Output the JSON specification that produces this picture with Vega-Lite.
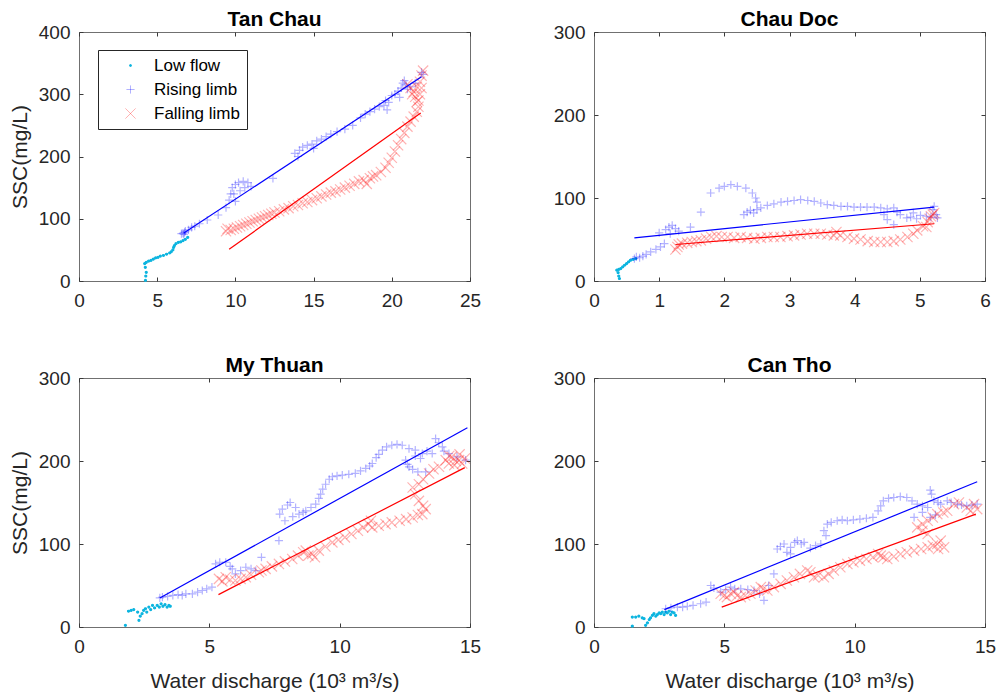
{
  "$schema": "https://vega.github.io/schema/vega-lite/v6.json",
  "background": "#ffffff",
  "padding": {"left": 8, "top": 8, "right": 4, "bottom": 4},
  "columns": 2,
  "spacing": {"row": 97, "column": 124},
  "bounds": "flush",
  "concat": [
    {
      "title": {"text": "Tan Chau"},
      "width": 391,
      "height": 249,
      "layer": [
        {
          "data": {"values": [
            {"limb":"Low flow","Q":4.25,"SSC":1},{"limb":"Low flow","Q":4.27,"SSC":8},{"limb":"Low flow","Q":4.3,"SSC":14},{"limb":"Low flow","Q":4.24,"SSC":22},{"limb":"Low flow","Q":4.2,"SSC":28},{"limb":"Low flow","Q":4.3,"SSC":30},{"limb":"Low flow","Q":4.45,"SSC":32},{"limb":"Low flow","Q":4.6,"SSC":33},{"limb":"Low flow","Q":4.75,"SSC":35},{"limb":"Low flow","Q":4.9,"SSC":37},{"limb":"Low flow","Q":5.05,"SSC":38},{"limb":"Low flow","Q":5.2,"SSC":40},{"limb":"Low flow","Q":5.4,"SSC":41},{"limb":"Low flow","Q":5.6,"SSC":43},{"limb":"Low flow","Q":5.8,"SSC":45},{"limb":"Low flow","Q":5.9,"SSC":47},{"limb":"Low flow","Q":6.0,"SSC":50},{"limb":"Low flow","Q":6.05,"SSC":54},{"limb":"Low flow","Q":6.1,"SSC":57},{"limb":"Low flow","Q":6.2,"SSC":60},{"limb":"Low flow","Q":6.35,"SSC":62},{"limb":"Low flow","Q":6.5,"SSC":63},{"limb":"Low flow","Q":6.65,"SSC":65},{"limb":"Low flow","Q":6.8,"SSC":67},{"limb":"Low flow","Q":6.95,"SSC":70},
            {"limb":"Rising limb","Q":6.55,"SSC":76},{"limb":"Rising limb","Q":6.65,"SSC":77},{"limb":"Rising limb","Q":6.75,"SSC":78},{"limb":"Rising limb","Q":6.7,"SSC":75},{"limb":"Rising limb","Q":6.8,"SSC":80},{"limb":"Rising limb","Q":7.0,"SSC":82},{"limb":"Rising limb","Q":7.2,"SSC":86},{"limb":"Rising limb","Q":7.4,"SSC":88},{"limb":"Rising limb","Q":7.7,"SSC":92},{"limb":"Rising limb","Q":8.2,"SSC":98},{"limb":"Rising limb","Q":8.9,"SSC":106},{"limb":"Rising limb","Q":9.4,"SSC":118},{"limb":"Rising limb","Q":9.6,"SSC":130},{"limb":"Rising limb","Q":9.7,"SSC":140},{"limb":"Rising limb","Q":9.8,"SSC":150},{"limb":"Rising limb","Q":10.0,"SSC":155},{"limb":"Rising limb","Q":10.2,"SSC":158},{"limb":"Rising limb","Q":10.5,"SSC":160},{"limb":"Rising limb","Q":10.8,"SSC":158},{"limb":"Rising limb","Q":10.3,"SSC":145},{"limb":"Rising limb","Q":10.0,"SSC":128},{"limb":"Rising limb","Q":9.9,"SSC":140},{"limb":"Rising limb","Q":10.6,"SSC":150},{"limb":"Rising limb","Q":11.0,"SSC":152},{"limb":"Rising limb","Q":12.4,"SSC":165},{"limb":"Rising limb","Q":13.8,"SSC":205},{"limb":"Rising limb","Q":14.0,"SSC":200},{"limb":"Rising limb","Q":14.1,"SSC":210},{"limb":"Rising limb","Q":14.3,"SSC":215},{"limb":"Rising limb","Q":14.6,"SSC":218},{"limb":"Rising limb","Q":14.9,"SSC":220},{"limb":"Rising limb","Q":15.0,"SSC":213},{"limb":"Rising limb","Q":15.2,"SSC":225},{"limb":"Rising limb","Q":15.5,"SSC":228},{"limb":"Rising limb","Q":15.8,"SSC":232},{"limb":"Rising limb","Q":16.1,"SSC":236},{"limb":"Rising limb","Q":16.5,"SSC":240},{"limb":"Rising limb","Q":17.0,"SSC":244},{"limb":"Rising limb","Q":17.5,"SSC":250},{"limb":"Rising limb","Q":18.0,"SSC":262},{"limb":"Rising limb","Q":18.3,"SSC":268},{"limb":"Rising limb","Q":18.6,"SSC":272},{"limb":"Rising limb","Q":18.9,"SSC":276},{"limb":"Rising limb","Q":19.2,"SSC":280},{"limb":"Rising limb","Q":19.5,"SSC":282},{"limb":"Rising limb","Q":19.6,"SSC":290},{"limb":"Rising limb","Q":19.7,"SSC":275},{"limb":"Rising limb","Q":19.8,"SSC":287},{"limb":"Rising limb","Q":20.0,"SSC":298},{"limb":"Rising limb","Q":20.2,"SSC":300},{"limb":"Rising limb","Q":20.4,"SSC":305},{"limb":"Rising limb","Q":20.5,"SSC":295},{"limb":"Rising limb","Q":20.6,"SSC":310},{"limb":"Rising limb","Q":20.7,"SSC":318},{"limb":"Rising limb","Q":20.8,"SSC":322},{"limb":"Rising limb","Q":20.9,"SSC":315},{"limb":"Rising limb","Q":21.0,"SSC":308},{"limb":"Rising limb","Q":21.2,"SSC":312},{"limb":"Rising limb","Q":21.5,"SSC":318},{"limb":"Rising limb","Q":21.9,"SSC":335},{"limb":"Rising limb","Q":22.0,"SSC":332},
            {"limb":"Falling limb","Q":9.4,"SSC":80},{"limb":"Falling limb","Q":9.5,"SSC":84},{"limb":"Falling limb","Q":9.7,"SSC":82},{"limb":"Falling limb","Q":9.9,"SSC":84},{"limb":"Falling limb","Q":10.1,"SSC":86},{"limb":"Falling limb","Q":10.3,"SSC":88},{"limb":"Falling limb","Q":10.5,"SSC":90},{"limb":"Falling limb","Q":10.7,"SSC":92},{"limb":"Falling limb","Q":10.9,"SSC":94},{"limb":"Falling limb","Q":11.1,"SSC":96},{"limb":"Falling limb","Q":11.3,"SSC":98},{"limb":"Falling limb","Q":11.5,"SSC":100},{"limb":"Falling limb","Q":11.7,"SSC":102},{"limb":"Falling limb","Q":11.9,"SSC":104},{"limb":"Falling limb","Q":12.1,"SSC":106},{"limb":"Falling limb","Q":12.3,"SSC":108},{"limb":"Falling limb","Q":12.5,"SSC":110},{"limb":"Falling limb","Q":12.8,"SSC":112},{"limb":"Falling limb","Q":13.1,"SSC":115},{"limb":"Falling limb","Q":13.4,"SSC":117},{"limb":"Falling limb","Q":13.7,"SSC":120},{"limb":"Falling limb","Q":14.0,"SSC":122},{"limb":"Falling limb","Q":14.3,"SSC":125},{"limb":"Falling limb","Q":14.6,"SSC":127},{"limb":"Falling limb","Q":14.9,"SSC":130},{"limb":"Falling limb","Q":15.2,"SSC":133},{"limb":"Falling limb","Q":15.5,"SSC":136},{"limb":"Falling limb","Q":15.8,"SSC":139},{"limb":"Falling limb","Q":16.1,"SSC":142},{"limb":"Falling limb","Q":16.4,"SSC":144},{"limb":"Falling limb","Q":16.7,"SSC":147},{"limb":"Falling limb","Q":17.0,"SSC":150},{"limb":"Falling limb","Q":17.3,"SSC":153},{"limb":"Falling limb","Q":17.6,"SSC":156},{"limb":"Falling limb","Q":17.9,"SSC":160},{"limb":"Falling limb","Q":18.2,"SSC":162},{"limb":"Falling limb","Q":18.4,"SSC":156},{"limb":"Falling limb","Q":18.6,"SSC":165},{"limb":"Falling limb","Q":18.8,"SSC":168},{"limb":"Falling limb","Q":19.0,"SSC":170},{"limb":"Falling limb","Q":19.3,"SSC":175},{"limb":"Falling limb","Q":19.6,"SSC":182},{"limb":"Falling limb","Q":19.8,"SSC":190},{"limb":"Falling limb","Q":20.0,"SSC":198},{"limb":"Falling limb","Q":20.2,"SSC":208},{"limb":"Falling limb","Q":20.4,"SSC":218},{"limb":"Falling limb","Q":20.6,"SSC":228},{"limb":"Falling limb","Q":20.8,"SSC":238},{"limb":"Falling limb","Q":21.0,"SSC":248},{"limb":"Falling limb","Q":21.2,"SSC":256},{"limb":"Falling limb","Q":21.4,"SSC":264},{"limb":"Falling limb","Q":21.6,"SSC":272},{"limb":"Falling limb","Q":21.7,"SSC":280},{"limb":"Falling limb","Q":21.6,"SSC":288},{"limb":"Falling limb","Q":21.5,"SSC":296},{"limb":"Falling limb","Q":21.4,"SSC":304},{"limb":"Falling limb","Q":21.2,"SSC":310},{"limb":"Falling limb","Q":21.0,"SSC":316},{"limb":"Falling limb","Q":21.3,"SSC":300},{"limb":"Falling limb","Q":21.7,"SSC":290},{"limb":"Falling limb","Q":21.8,"SSC":300},{"limb":"Falling limb","Q":21.9,"SSC":310},{"limb":"Falling limb","Q":21.8,"SSC":320},{"limb":"Falling limb","Q":21.9,"SSC":330},{"limb":"Falling limb","Q":22.0,"SSC":338},{"limb":"Falling limb","Q":21.6,"SSC":312}
          ]},
          "mark": {"type": "point", "filled": false, "opacity": 1, "strokeWidth": 1.2},
          "encoding": {
            "x": {"field": "Q", "type": "quantitative", "scale": {"domain": [0, 25], "nice": false, "zero": false}, "axis": {"values": [0, 5, 10, 15, 20, 25], "title": null}},
            "y": {"field": "SSC", "type": "quantitative", "scale": {"domain": [0, 400], "nice": false}, "axis": {"values": [0, 100, 200, 300, 400], "title": "SSC(mg/L)"}},
            "shape": {"field": "limb", "type": "nominal", "title": null, "scale": {"domain": ["Low flow", "Rising limb", "Falling limb"], "range": ["circle", "M-1,0L1,0M0,-1L0,1", "M-0.9,-0.9L0.9,0.9M-0.9,0.9L0.9,-0.9"]}},
            "stroke": {"field": "limb", "type": "nominal", "title": null, "scale": {"domain": ["Low flow", "Rising limb", "Falling limb"], "range": ["#0BB4DF", "rgba(0,0,255,0.3)", "rgba(255,0,0,0.3)"]}},
            "fill": {"field": "limb", "type": "nominal", "title": null, "scale": {"domain": ["Low flow", "Rising limb", "Falling limb"], "range": ["#0BB4DF", "transparent", "transparent"]}},
            "size": {"field": "limb", "type": "nominal", "title": null, "scale": {"domain": ["Low flow", "Rising limb", "Falling limb"], "range": [4, 130, 130]}}
          }
        },
        {
          "data": {"values": [{"Q": 6.7, "SSC": 77}, {"Q": 21.9, "SSC": 328}]},
          "mark": {"type": "line", "color": "#0000FF", "strokeWidth": 1.2},
          "encoding": {
            "x": {"field": "Q", "type": "quantitative", "axis": {"orient": "top", "labels": false, "title": null, "values": [0, 5, 10, 15, 20, 25]}},
            "y": {"field": "SSC", "type": "quantitative", "axis": {"orient": "right", "labels": false, "title": null, "values": [0, 100, 200, 300, 400]}}
          }
        },
        {
          "data": {"values": [{"Q": 9.6, "SSC": 51}, {"Q": 21.85, "SSC": 270}]},
          "mark": {"type": "line", "color": "#FF0000", "strokeWidth": 1.2},
          "encoding": {
            "x": {"field": "Q", "type": "quantitative", "axis": null},
            "y": {"field": "SSC", "type": "quantitative", "axis": null}
          }
        }
      ],
      "resolve": {"axis": {"x": "independent", "y": "independent"}}
    },
    {
      "title": {"text": "Chau Doc"},
      "width": 391,
      "height": 249,
      "layer": [
        {
          "data": {"values": [
            {"limb":"Low flow","Q":0.39,"SSC":3},{"limb":"Low flow","Q":0.38,"SSC":6},{"limb":"Low flow","Q":0.37,"SSC":10},{"limb":"Low flow","Q":0.35,"SSC":13},{"limb":"Low flow","Q":0.38,"SSC":14},{"limb":"Low flow","Q":0.41,"SSC":15},{"limb":"Low flow","Q":0.44,"SSC":17},{"limb":"Low flow","Q":0.47,"SSC":19},{"limb":"Low flow","Q":0.5,"SSC":21},{"limb":"Low flow","Q":0.53,"SSC":23},{"limb":"Low flow","Q":0.56,"SSC":25},{"limb":"Low flow","Q":0.6,"SSC":26},{"limb":"Low flow","Q":0.64,"SSC":27},
            {"limb":"Rising limb","Q":0.62,"SSC":27},{"limb":"Rising limb","Q":0.65,"SSC":29},{"limb":"Rising limb","Q":0.7,"SSC":28},{"limb":"Rising limb","Q":0.75,"SSC":30},{"limb":"Rising limb","Q":0.8,"SSC":32},{"limb":"Rising limb","Q":0.87,"SSC":35},{"limb":"Rising limb","Q":0.95,"SSC":38},{"limb":"Rising limb","Q":1.02,"SSC":41},{"limb":"Rising limb","Q":1.08,"SSC":45},{"limb":"Rising limb","Q":1.0,"SSC":58},{"limb":"Rising limb","Q":1.1,"SSC":62},{"limb":"Rising limb","Q":1.15,"SSC":65},{"limb":"Rising limb","Q":1.2,"SSC":67},{"limb":"Rising limb","Q":1.17,"SSC":57},{"limb":"Rising limb","Q":1.25,"SSC":63},{"limb":"Rising limb","Q":1.3,"SSC":60},{"limb":"Rising limb","Q":1.48,"SSC":65},{"limb":"Rising limb","Q":1.64,"SSC":83},{"limb":"Rising limb","Q":1.79,"SSC":106},{"limb":"Rising limb","Q":1.92,"SSC":112},{"limb":"Rising limb","Q":2.0,"SSC":114},{"limb":"Rising limb","Q":2.1,"SSC":116},{"limb":"Rising limb","Q":2.2,"SSC":114},{"limb":"Rising limb","Q":2.33,"SSC":112},{"limb":"Rising limb","Q":2.43,"SSC":106},{"limb":"Rising limb","Q":2.48,"SSC":100},{"limb":"Rising limb","Q":2.5,"SSC":95},{"limb":"Rising limb","Q":2.3,"SSC":80},{"limb":"Rising limb","Q":2.35,"SSC":83},{"limb":"Rising limb","Q":2.4,"SSC":85},{"limb":"Rising limb","Q":2.45,"SSC":82},{"limb":"Rising limb","Q":2.5,"SSC":86},{"limb":"Rising limb","Q":2.56,"SSC":88},{"limb":"Rising limb","Q":2.66,"SSC":91},{"limb":"Rising limb","Q":2.76,"SSC":93},{"limb":"Rising limb","Q":2.87,"SSC":95},{"limb":"Rising limb","Q":2.97,"SSC":96},{"limb":"Rising limb","Q":3.07,"SSC":97},{"limb":"Rising limb","Q":3.17,"SSC":98},{"limb":"Rising limb","Q":3.28,"SSC":97},{"limb":"Rising limb","Q":3.38,"SSC":96},{"limb":"Rising limb","Q":3.48,"SSC":94},{"limb":"Rising limb","Q":3.58,"SSC":92},{"limb":"Rising limb","Q":3.68,"SSC":91},{"limb":"Rising limb","Q":3.79,"SSC":90},{"limb":"Rising limb","Q":3.89,"SSC":90},{"limb":"Rising limb","Q":3.99,"SSC":89},{"limb":"Rising limb","Q":4.09,"SSC":89},{"limb":"Rising limb","Q":4.19,"SSC":89},{"limb":"Rising limb","Q":4.3,"SSC":89},{"limb":"Rising limb","Q":4.4,"SSC":88},{"limb":"Rising limb","Q":4.5,"SSC":87},{"limb":"Rising limb","Q":4.6,"SSC":88},{"limb":"Rising limb","Q":4.45,"SSC":80},{"limb":"Rising limb","Q":4.5,"SSC":74},{"limb":"Rising limb","Q":4.6,"SSC":68},{"limb":"Rising limb","Q":4.7,"SSC":80},{"limb":"Rising limb","Q":4.8,"SSC":76},{"limb":"Rising limb","Q":4.86,"SSC":77},{"limb":"Rising limb","Q":4.95,"SSC":75},{"limb":"Rising limb","Q":5.01,"SSC":79},{"limb":"Rising limb","Q":5.1,"SSC":78},{"limb":"Rising limb","Q":5.17,"SSC":77},{"limb":"Rising limb","Q":5.2,"SSC":86},{"limb":"Rising limb","Q":5.22,"SSC":90},{"limb":"Rising limb","Q":5.25,"SSC":80},{"limb":"Rising limb","Q":5.27,"SSC":76},{"limb":"Rising limb","Q":4.65,"SSC":83},{"limb":"Rising limb","Q":4.9,"SSC":82},
            {"limb":"Falling limb","Q":1.25,"SSC":38},{"limb":"Falling limb","Q":1.28,"SSC":41},{"limb":"Falling limb","Q":1.3,"SSC":44},{"limb":"Falling limb","Q":1.35,"SSC":45},{"limb":"Falling limb","Q":1.43,"SSC":46},{"limb":"Falling limb","Q":1.5,"SSC":47},{"limb":"Falling limb","Q":1.57,"SSC":48},{"limb":"Falling limb","Q":1.64,"SSC":49},{"limb":"Falling limb","Q":1.72,"SSC":51},{"limb":"Falling limb","Q":1.8,"SSC":53},{"limb":"Falling limb","Q":1.88,"SSC":54},{"limb":"Falling limb","Q":1.96,"SSC":53},{"limb":"Falling limb","Q":2.05,"SSC":53},{"limb":"Falling limb","Q":2.15,"SSC":52},{"limb":"Falling limb","Q":2.25,"SSC":53},{"limb":"Falling limb","Q":2.35,"SSC":52},{"limb":"Falling limb","Q":2.46,"SSC":51},{"limb":"Falling limb","Q":2.56,"SSC":52},{"limb":"Falling limb","Q":2.66,"SSC":53},{"limb":"Falling limb","Q":2.76,"SSC":53},{"limb":"Falling limb","Q":2.86,"SSC":53},{"limb":"Falling limb","Q":2.97,"SSC":54},{"limb":"Falling limb","Q":3.07,"SSC":55},{"limb":"Falling limb","Q":3.17,"SSC":56},{"limb":"Falling limb","Q":3.27,"SSC":57},{"limb":"Falling limb","Q":3.38,"SSC":57},{"limb":"Falling limb","Q":3.48,"SSC":57},{"limb":"Falling limb","Q":3.58,"SSC":56},{"limb":"Falling limb","Q":3.68,"SSC":55},{"limb":"Falling limb","Q":3.72,"SSC":59},{"limb":"Falling limb","Q":3.78,"SSC":55},{"limb":"Falling limb","Q":3.89,"SSC":53},{"limb":"Falling limb","Q":3.99,"SSC":51},{"limb":"Falling limb","Q":4.09,"SSC":50},{"limb":"Falling limb","Q":4.2,"SSC":48},{"limb":"Falling limb","Q":4.3,"SSC":47},{"limb":"Falling limb","Q":4.4,"SSC":47},{"limb":"Falling limb","Q":4.5,"SSC":47},{"limb":"Falling limb","Q":4.6,"SSC":48},{"limb":"Falling limb","Q":4.7,"SSC":50},{"limb":"Falling limb","Q":4.81,"SSC":53},{"limb":"Falling limb","Q":4.9,"SSC":57},{"limb":"Falling limb","Q":4.96,"SSC":61},{"limb":"Falling limb","Q":5.05,"SSC":66},{"limb":"Falling limb","Q":5.12,"SSC":71},{"limb":"Falling limb","Q":5.15,"SSC":75},{"limb":"Falling limb","Q":5.17,"SSC":78},{"limb":"Falling limb","Q":5.2,"SSC":80},{"limb":"Falling limb","Q":5.22,"SSC":82},{"limb":"Falling limb","Q":5.1,"SSC":65}
          ]},
          "mark": {"type": "point", "filled": false, "opacity": 1, "strokeWidth": 1.2},
          "encoding": {
            "x": {"field": "Q", "type": "quantitative", "scale": {"domain": [0, 6], "nice": false, "zero": false}, "axis": {"values": [0, 1, 2, 3, 4, 5, 6], "title": null}},
            "y": {"field": "SSC", "type": "quantitative", "scale": {"domain": [0, 300], "nice": false}, "axis": {"values": [0, 100, 200, 300], "title": null}},
            "shape": {"field": "limb", "type": "nominal", "legend": null, "scale": {"domain": ["Low flow", "Rising limb", "Falling limb"], "range": ["circle", "M-1,0L1,0M0,-1L0,1", "M-0.9,-0.9L0.9,0.9M-0.9,0.9L0.9,-0.9"]}},
            "stroke": {"field": "limb", "type": "nominal", "legend": null, "scale": {"domain": ["Low flow", "Rising limb", "Falling limb"], "range": ["#0BB4DF", "rgba(0,0,255,0.3)", "rgba(255,0,0,0.3)"]}},
            "fill": {"field": "limb", "type": "nominal", "legend": null, "scale": {"domain": ["Low flow", "Rising limb", "Falling limb"], "range": ["#0BB4DF", "transparent", "transparent"]}},
            "size": {"field": "limb", "type": "nominal", "legend": null, "scale": {"domain": ["Low flow", "Rising limb", "Falling limb"], "range": [4, 130, 130]}}
          }
        },
        {
          "data": {"values": [{"Q": 0.62, "SSC": 52}, {"Q": 5.22, "SSC": 89}]},
          "mark": {"type": "line", "color": "#0000FF", "strokeWidth": 1.2},
          "encoding": {
            "x": {"field": "Q", "type": "quantitative", "axis": {"orient": "top", "labels": false, "title": null, "values": [0, 1, 2, 3, 4, 5, 6]}},
            "y": {"field": "SSC", "type": "quantitative", "axis": {"orient": "right", "labels": false, "title": null, "values": [0, 100, 200, 300]}}
          }
        },
        {
          "data": {"values": [{"Q": 1.25, "SSC": 44}, {"Q": 5.22, "SSC": 69}]},
          "mark": {"type": "line", "color": "#FF0000", "strokeWidth": 1.2},
          "encoding": {
            "x": {"field": "Q", "type": "quantitative", "axis": null},
            "y": {"field": "SSC", "type": "quantitative", "axis": null}
          }
        }
      ],
      "resolve": {"axis": {"x": "independent", "y": "independent"}}
    },
    {
      "title": {"text": "My Thuan"},
      "width": 391,
      "height": 249,
      "layer": [
        {
          "data": {"values": [
            {"limb":"Low flow","Q":1.78,"SSC":2},{"limb":"Low flow","Q":1.9,"SSC":19},{"limb":"Low flow","Q":2.0,"SSC":20},{"limb":"Low flow","Q":2.1,"SSC":21},{"limb":"Low flow","Q":2.25,"SSC":18},{"limb":"Low flow","Q":2.3,"SSC":8},{"limb":"Low flow","Q":2.35,"SSC":13},{"limb":"Low flow","Q":2.42,"SSC":16},{"limb":"Low flow","Q":2.48,"SSC":20},{"limb":"Low flow","Q":2.55,"SSC":22},{"limb":"Low flow","Q":2.6,"SSC":18},{"limb":"Low flow","Q":2.68,"SSC":24},{"limb":"Low flow","Q":2.75,"SSC":21},{"limb":"Low flow","Q":2.82,"SSC":26},{"limb":"Low flow","Q":2.9,"SSC":23},{"limb":"Low flow","Q":3.0,"SSC":26},{"limb":"Low flow","Q":3.08,"SSC":24},{"limb":"Low flow","Q":3.15,"SSC":28},{"limb":"Low flow","Q":3.22,"SSC":25},{"limb":"Low flow","Q":3.3,"SSC":27},{"limb":"Low flow","Q":3.38,"SSC":24},{"limb":"Low flow","Q":3.45,"SSC":26},{"limb":"Low flow","Q":3.5,"SSC":25},
            {"limb":"Rising limb","Q":3.1,"SSC":35},{"limb":"Rising limb","Q":3.2,"SSC":36},{"limb":"Rising limb","Q":3.4,"SSC":37},{"limb":"Rising limb","Q":3.6,"SSC":38},{"limb":"Rising limb","Q":3.8,"SSC":39},{"limb":"Rising limb","Q":3.96,"SSC":38},{"limb":"Rising limb","Q":4.1,"SSC":40},{"limb":"Rising limb","Q":4.35,"SSC":40},{"limb":"Rising limb","Q":4.55,"SSC":42},{"limb":"Rising limb","Q":4.73,"SSC":44},{"limb":"Rising limb","Q":4.9,"SSC":46},{"limb":"Rising limb","Q":5.1,"SSC":48},{"limb":"Rising limb","Q":5.24,"SSC":76},{"limb":"Rising limb","Q":5.4,"SSC":78},{"limb":"Rising limb","Q":5.63,"SSC":78},{"limb":"Rising limb","Q":5.8,"SSC":73},{"limb":"Rising limb","Q":5.88,"SSC":70},{"limb":"Rising limb","Q":6.0,"SSC":64},{"limb":"Rising limb","Q":6.2,"SSC":68},{"limb":"Rising limb","Q":6.4,"SSC":72},{"limb":"Rising limb","Q":6.6,"SSC":70},{"limb":"Rising limb","Q":6.78,"SSC":68},{"limb":"Rising limb","Q":7.0,"SSC":84},{"limb":"Rising limb","Q":7.67,"SSC":104},{"limb":"Rising limb","Q":7.7,"SSC":136},{"limb":"Rising limb","Q":7.8,"SSC":142},{"limb":"Rising limb","Q":7.9,"SSC":128},{"limb":"Rising limb","Q":8.0,"SSC":147},{"limb":"Rising limb","Q":8.1,"SSC":150},{"limb":"Rising limb","Q":8.2,"SSC":133},{"limb":"Rising limb","Q":8.31,"SSC":144},{"limb":"Rising limb","Q":8.44,"SSC":136},{"limb":"Rising limb","Q":8.6,"SSC":138},{"limb":"Rising limb","Q":8.7,"SSC":140},{"limb":"Rising limb","Q":8.9,"SSC":144},{"limb":"Rising limb","Q":9.08,"SSC":148},{"limb":"Rising limb","Q":9.2,"SSC":155},{"limb":"Rising limb","Q":9.27,"SSC":160},{"limb":"Rising limb","Q":9.35,"SSC":166},{"limb":"Rising limb","Q":9.46,"SSC":172},{"limb":"Rising limb","Q":9.6,"SSC":178},{"limb":"Rising limb","Q":9.72,"SSC":181},{"limb":"Rising limb","Q":9.9,"SSC":182},{"limb":"Rising limb","Q":10.1,"SSC":183},{"limb":"Rising limb","Q":10.35,"SSC":184},{"limb":"Rising limb","Q":10.6,"SSC":185},{"limb":"Rising limb","Q":10.8,"SSC":188},{"limb":"Rising limb","Q":11.0,"SSC":191},{"limb":"Rising limb","Q":11.15,"SSC":194},{"limb":"Rising limb","Q":11.25,"SSC":197},{"limb":"Rising limb","Q":11.4,"SSC":204},{"limb":"Rising limb","Q":11.5,"SSC":208},{"limb":"Rising limb","Q":11.64,"SSC":213},{"limb":"Rising limb","Q":11.8,"SSC":217},{"limb":"Rising limb","Q":12.0,"SSC":219},{"limb":"Rising limb","Q":12.2,"SSC":220},{"limb":"Rising limb","Q":12.4,"SSC":219},{"limb":"Rising limb","Q":12.66,"SSC":215},{"limb":"Rising limb","Q":12.9,"SSC":213},{"limb":"Rising limb","Q":12.53,"SSC":201},{"limb":"Rising limb","Q":12.6,"SSC":196},{"limb":"Rising limb","Q":12.66,"SSC":193},{"limb":"Rising limb","Q":12.8,"SSC":190},{"limb":"Rising limb","Q":13.0,"SSC":187},{"limb":"Rising limb","Q":13.3,"SSC":187},{"limb":"Rising limb","Q":13.17,"SSC":209},{"limb":"Rising limb","Q":13.35,"SSC":212},{"limb":"Rising limb","Q":13.55,"SSC":209},{"limb":"Rising limb","Q":13.68,"SSC":227},{"limb":"Rising limb","Q":13.8,"SSC":222},{"limb":"Rising limb","Q":13.94,"SSC":217},{"limb":"Rising limb","Q":14.0,"SSC":212},{"limb":"Rising limb","Q":14.19,"SSC":209},{"limb":"Rising limb","Q":14.5,"SSC":205},{"limb":"Rising limb","Q":14.83,"SSC":201},{"limb":"Rising limb","Q":12.9,"SSC":206},{"limb":"Rising limb","Q":13.1,"SSC":203},
            {"limb":"Falling limb","Q":5.37,"SSC":58},{"limb":"Falling limb","Q":5.5,"SSC":55},{"limb":"Falling limb","Q":5.63,"SSC":60},{"limb":"Falling limb","Q":5.8,"SSC":57},{"limb":"Falling limb","Q":6.0,"SSC":56},{"limb":"Falling limb","Q":6.2,"SSC":58},{"limb":"Falling limb","Q":6.4,"SSC":60},{"limb":"Falling limb","Q":6.6,"SSC":63},{"limb":"Falling limb","Q":6.9,"SSC":66},{"limb":"Falling limb","Q":7.0,"SSC":68},{"limb":"Falling limb","Q":7.16,"SSC":70},{"limb":"Falling limb","Q":7.4,"SSC":73},{"limb":"Falling limb","Q":7.67,"SSC":76},{"limb":"Falling limb","Q":7.9,"SSC":79},{"limb":"Falling limb","Q":8.18,"SSC":82},{"limb":"Falling limb","Q":8.4,"SSC":86},{"limb":"Falling limb","Q":8.6,"SSC":90},{"limb":"Falling limb","Q":8.7,"SSC":92},{"limb":"Falling limb","Q":8.8,"SSC":86},{"limb":"Falling limb","Q":8.95,"SSC":88},{"limb":"Falling limb","Q":9.05,"SSC":84},{"limb":"Falling limb","Q":9.2,"SSC":92},{"limb":"Falling limb","Q":9.45,"SSC":97},{"limb":"Falling limb","Q":9.72,"SSC":102},{"limb":"Falling limb","Q":9.95,"SSC":105},{"limb":"Falling limb","Q":10.2,"SSC":108},{"limb":"Falling limb","Q":10.45,"SSC":112},{"limb":"Falling limb","Q":10.7,"SSC":116},{"limb":"Falling limb","Q":10.9,"SSC":120},{"limb":"Falling limb","Q":11.1,"SSC":124},{"limb":"Falling limb","Q":11.2,"SSC":128},{"limb":"Falling limb","Q":11.25,"SSC":120},{"limb":"Falling limb","Q":11.5,"SSC":122},{"limb":"Falling limb","Q":11.76,"SSC":124},{"limb":"Falling limb","Q":12.0,"SSC":126},{"limb":"Falling limb","Q":12.3,"SSC":128},{"limb":"Falling limb","Q":12.55,"SSC":130},{"limb":"Falling limb","Q":12.8,"SSC":132},{"limb":"Falling limb","Q":13.0,"SSC":135},{"limb":"Falling limb","Q":13.17,"SSC":136},{"limb":"Falling limb","Q":13.3,"SSC":142},{"limb":"Falling limb","Q":13.2,"SSC":146},{"limb":"Falling limb","Q":13.04,"SSC":152},{"limb":"Falling limb","Q":12.9,"SSC":160},{"limb":"Falling limb","Q":12.8,"SSC":168},{"limb":"Falling limb","Q":13.04,"SSC":172},{"limb":"Falling limb","Q":13.2,"SSC":178},{"limb":"Falling limb","Q":13.43,"SSC":185},{"limb":"Falling limb","Q":13.6,"SSC":190},{"limb":"Falling limb","Q":13.81,"SSC":193},{"limb":"Falling limb","Q":14.07,"SSC":201},{"limb":"Falling limb","Q":14.2,"SSC":206},{"limb":"Falling limb","Q":14.3,"SSC":205},{"limb":"Falling limb","Q":14.45,"SSC":200},{"limb":"Falling limb","Q":14.58,"SSC":201},{"limb":"Falling limb","Q":14.7,"SSC":197},{"limb":"Falling limb","Q":14.19,"SSC":197},{"limb":"Falling limb","Q":14.4,"SSC":195},{"limb":"Falling limb","Q":14.8,"SSC":203},{"limb":"Falling limb","Q":14.6,"SSC":208}
          ]},
          "mark": {"type": "point", "filled": false, "opacity": 1, "strokeWidth": 1.2},
          "encoding": {
            "x": {"field": "Q", "type": "quantitative", "scale": {"domain": [0, 15], "nice": false, "zero": false}, "axis": {"values": [0, 5, 10, 15], "title": "Water discharge (10³ m³/s)"}},
            "y": {"field": "SSC", "type": "quantitative", "scale": {"domain": [0, 300], "nice": false}, "axis": {"values": [0, 100, 200, 300], "title": "SSC(mg/L)"}},
            "shape": {"field": "limb", "type": "nominal", "legend": null, "scale": {"domain": ["Low flow", "Rising limb", "Falling limb"], "range": ["circle", "M-1,0L1,0M0,-1L0,1", "M-0.9,-0.9L0.9,0.9M-0.9,0.9L0.9,-0.9"]}},
            "stroke": {"field": "limb", "type": "nominal", "legend": null, "scale": {"domain": ["Low flow", "Rising limb", "Falling limb"], "range": ["#0BB4DF", "rgba(0,0,255,0.3)", "rgba(255,0,0,0.3)"]}},
            "fill": {"field": "limb", "type": "nominal", "legend": null, "scale": {"domain": ["Low flow", "Rising limb", "Falling limb"], "range": ["#0BB4DF", "transparent", "transparent"]}},
            "size": {"field": "limb", "type": "nominal", "legend": null, "scale": {"domain": ["Low flow", "Rising limb", "Falling limb"], "range": [4, 130, 130]}}
          }
        },
        {
          "data": {"values": [{"Q": 3.1, "SSC": 35}, {"Q": 14.9, "SSC": 240}]},
          "mark": {"type": "line", "color": "#0000FF", "strokeWidth": 1.2},
          "encoding": {
            "x": {"field": "Q", "type": "quantitative", "axis": {"orient": "top", "labels": false, "title": null, "values": [0, 5, 10, 15]}},
            "y": {"field": "SSC", "type": "quantitative", "axis": {"orient": "right", "labels": false, "title": null, "values": [0, 100, 200, 300]}}
          }
        },
        {
          "data": {"values": [{"Q": 5.35, "SSC": 39}, {"Q": 14.8, "SSC": 192}]},
          "mark": {"type": "line", "color": "#FF0000", "strokeWidth": 1.2},
          "encoding": {
            "x": {"field": "Q", "type": "quantitative", "axis": null},
            "y": {"field": "SSC", "type": "quantitative", "axis": null}
          }
        }
      ],
      "resolve": {"axis": {"x": "independent", "y": "independent"}}
    },
    {
      "title": {"text": "Can Tho"},
      "width": 391,
      "height": 249,
      "layer": [
        {
          "data": {"values": [
            {"limb":"Low flow","Q":1.47,"SSC":1},{"limb":"Low flow","Q":1.47,"SSC":12},{"limb":"Low flow","Q":1.6,"SSC":12},{"limb":"Low flow","Q":1.72,"SSC":13},{"limb":"Low flow","Q":1.85,"SSC":11},{"limb":"Low flow","Q":1.92,"SSC":10},{"limb":"Low flow","Q":1.98,"SSC":2},{"limb":"Low flow","Q":2.05,"SSC":5},{"limb":"Low flow","Q":2.12,"SSC":9},{"limb":"Low flow","Q":2.17,"SSC":11},{"limb":"Low flow","Q":2.24,"SSC":14},{"limb":"Low flow","Q":2.3,"SSC":16},{"limb":"Low flow","Q":2.37,"SSC":13},{"limb":"Low flow","Q":2.43,"SSC":15},{"limb":"Low flow","Q":2.5,"SSC":17},{"limb":"Low flow","Q":2.56,"SSC":16},{"limb":"Low flow","Q":2.62,"SSC":18},{"limb":"Low flow","Q":2.69,"SSC":15},{"limb":"Low flow","Q":2.75,"SSC":18},{"limb":"Low flow","Q":2.81,"SSC":17},{"limb":"Low flow","Q":2.88,"SSC":19},{"limb":"Low flow","Q":2.94,"SSC":15},{"limb":"Low flow","Q":3.0,"SSC":18},{"limb":"Low flow","Q":3.07,"SSC":17},{"limb":"Low flow","Q":3.13,"SSC":14},
            {"limb":"Rising limb","Q":2.75,"SSC":22},{"limb":"Rising limb","Q":2.95,"SSC":23},{"limb":"Rising limb","Q":3.2,"SSC":24},{"limb":"Rising limb","Q":3.4,"SSC":24},{"limb":"Rising limb","Q":3.58,"SSC":25},{"limb":"Rising limb","Q":3.8,"SSC":26},{"limb":"Rising limb","Q":4.09,"SSC":28},{"limb":"Rising limb","Q":4.3,"SSC":30},{"limb":"Rising limb","Q":4.48,"SSC":50},{"limb":"Rising limb","Q":4.6,"SSC":47},{"limb":"Rising limb","Q":4.86,"SSC":42},{"limb":"Rising limb","Q":5.05,"SSC":45},{"limb":"Rising limb","Q":5.24,"SSC":48},{"limb":"Rising limb","Q":5.4,"SSC":46},{"limb":"Rising limb","Q":5.63,"SSC":46},{"limb":"Rising limb","Q":5.9,"SSC":45},{"limb":"Rising limb","Q":6.14,"SSC":44},{"limb":"Rising limb","Q":6.35,"SSC":40},{"limb":"Rising limb","Q":6.52,"SSC":32},{"limb":"Rising limb","Q":6.7,"SSC":50},{"limb":"Rising limb","Q":6.9,"SSC":64},{"limb":"Rising limb","Q":7.03,"SSC":94},{"limb":"Rising limb","Q":7.15,"SSC":97},{"limb":"Rising limb","Q":7.29,"SSC":100},{"limb":"Rising limb","Q":7.4,"SSC":90},{"limb":"Rising limb","Q":7.54,"SSC":96},{"limb":"Rising limb","Q":7.54,"SSC":88},{"limb":"Rising limb","Q":7.7,"SSC":102},{"limb":"Rising limb","Q":7.8,"SSC":104},{"limb":"Rising limb","Q":7.95,"SSC":100},{"limb":"Rising limb","Q":8.06,"SSC":102},{"limb":"Rising limb","Q":8.3,"SSC":95},{"limb":"Rising limb","Q":8.5,"SSC":98},{"limb":"Rising limb","Q":8.7,"SSC":100},{"limb":"Rising limb","Q":8.82,"SSC":116},{"limb":"Rising limb","Q":8.9,"SSC":110},{"limb":"Rising limb","Q":8.95,"SSC":124},{"limb":"Rising limb","Q":9.1,"SSC":126},{"limb":"Rising limb","Q":9.33,"SSC":128},{"limb":"Rising limb","Q":9.52,"SSC":129},{"limb":"Rising limb","Q":9.72,"SSC":128},{"limb":"Rising limb","Q":9.95,"SSC":129},{"limb":"Rising limb","Q":10.2,"SSC":130},{"limb":"Rising limb","Q":10.45,"SSC":131},{"limb":"Rising limb","Q":10.7,"SSC":132},{"limb":"Rising limb","Q":10.9,"SSC":140},{"limb":"Rising limb","Q":11.0,"SSC":146},{"limb":"Rising limb","Q":11.1,"SSC":152},{"limb":"Rising limb","Q":11.3,"SSC":155},{"limb":"Rising limb","Q":11.5,"SSC":156},{"limb":"Rising limb","Q":11.75,"SSC":157},{"limb":"Rising limb","Q":12.0,"SSC":156},{"limb":"Rising limb","Q":12.2,"SSC":152},{"limb":"Rising limb","Q":12.4,"SSC":148},{"limb":"Rising limb","Q":12.6,"SSC":146},{"limb":"Rising limb","Q":12.8,"SSC":144},{"limb":"Rising limb","Q":12.9,"SSC":165},{"limb":"Rising limb","Q":12.95,"SSC":160},{"limb":"Rising limb","Q":13.04,"SSC":152},{"limb":"Rising limb","Q":13.2,"SSC":150},{"limb":"Rising limb","Q":13.3,"SSC":148},{"limb":"Rising limb","Q":13.55,"SSC":152},{"limb":"Rising limb","Q":13.7,"SSC":150},{"limb":"Rising limb","Q":13.94,"SSC":148},{"limb":"Rising limb","Q":14.1,"SSC":147},{"limb":"Rising limb","Q":14.3,"SSC":146},{"limb":"Rising limb","Q":14.5,"SSC":147},{"limb":"Rising limb","Q":14.7,"SSC":148},{"limb":"Rising limb","Q":12.28,"SSC":132},{"limb":"Rising limb","Q":12.6,"SSC":138},{"limb":"Rising limb","Q":12.9,"SSC":132},{"limb":"Rising limb","Q":13.1,"SSC":135},
            {"limb":"Falling limb","Q":4.86,"SSC":40},{"limb":"Falling limb","Q":5.0,"SSC":38},{"limb":"Falling limb","Q":5.1,"SSC":36},{"limb":"Falling limb","Q":5.25,"SSC":40},{"limb":"Falling limb","Q":5.37,"SSC":42},{"limb":"Falling limb","Q":5.5,"SSC":38},{"limb":"Falling limb","Q":5.63,"SSC":36},{"limb":"Falling limb","Q":5.8,"SSC":38},{"limb":"Falling limb","Q":6.0,"SSC":40},{"limb":"Falling limb","Q":6.2,"SSC":44},{"limb":"Falling limb","Q":6.4,"SSC":48},{"limb":"Falling limb","Q":6.5,"SSC":46},{"limb":"Falling limb","Q":6.65,"SSC":44},{"limb":"Falling limb","Q":6.9,"SSC":48},{"limb":"Falling limb","Q":7.16,"SSC":52},{"limb":"Falling limb","Q":7.4,"SSC":56},{"limb":"Falling limb","Q":7.67,"SSC":60},{"limb":"Falling limb","Q":7.9,"SSC":64},{"limb":"Falling limb","Q":8.18,"SSC":68},{"limb":"Falling limb","Q":8.3,"SSC":66},{"limb":"Falling limb","Q":8.44,"SSC":60},{"limb":"Falling limb","Q":8.6,"SSC":62},{"limb":"Falling limb","Q":8.82,"SSC":60},{"limb":"Falling limb","Q":9.0,"SSC":64},{"limb":"Falling limb","Q":9.2,"SSC":68},{"limb":"Falling limb","Q":9.45,"SSC":72},{"limb":"Falling limb","Q":9.72,"SSC":76},{"limb":"Falling limb","Q":9.95,"SSC":78},{"limb":"Falling limb","Q":10.2,"SSC":80},{"limb":"Falling limb","Q":10.45,"SSC":82},{"limb":"Falling limb","Q":10.7,"SSC":84},{"limb":"Falling limb","Q":10.9,"SSC":88},{"limb":"Falling limb","Q":11.0,"SSC":86},{"limb":"Falling limb","Q":11.1,"SSC":84},{"limb":"Falling limb","Q":11.25,"SSC":82},{"limb":"Falling limb","Q":11.5,"SSC":85},{"limb":"Falling limb","Q":11.76,"SSC":88},{"limb":"Falling limb","Q":12.0,"SSC":90},{"limb":"Falling limb","Q":12.28,"SSC":92},{"limb":"Falling limb","Q":12.55,"SSC":94},{"limb":"Falling limb","Q":12.8,"SSC":96},{"limb":"Falling limb","Q":13.0,"SSC":98},{"limb":"Falling limb","Q":13.17,"SSC":100},{"limb":"Falling limb","Q":13.3,"SSC":104},{"limb":"Falling limb","Q":13.43,"SSC":96},{"limb":"Falling limb","Q":13.2,"SSC":94},{"limb":"Falling limb","Q":12.8,"SSC":112},{"limb":"Falling limb","Q":12.6,"SSC":116},{"limb":"Falling limb","Q":12.4,"SSC":120},{"limb":"Falling limb","Q":12.6,"SSC":124},{"limb":"Falling limb","Q":12.8,"SSC":128},{"limb":"Falling limb","Q":13.0,"SSC":132},{"limb":"Falling limb","Q":13.17,"SSC":136},{"limb":"Falling limb","Q":13.4,"SSC":138},{"limb":"Falling limb","Q":13.55,"SSC":140},{"limb":"Falling limb","Q":13.81,"SSC":148},{"limb":"Falling limb","Q":14.0,"SSC":150},{"limb":"Falling limb","Q":14.3,"SSC":144},{"limb":"Falling limb","Q":14.58,"SSC":148},{"limb":"Falling limb","Q":14.7,"SSC":142},{"limb":"Falling limb","Q":14.45,"SSC":140}
          ]},
          "mark": {"type": "point", "filled": false, "opacity": 1, "strokeWidth": 1.2},
          "encoding": {
            "x": {"field": "Q", "type": "quantitative", "scale": {"domain": [0, 15], "nice": false, "zero": false}, "axis": {"values": [0, 5, 10, 15], "title": "Water discharge (10³ m³/s)"}},
            "y": {"field": "SSC", "type": "quantitative", "scale": {"domain": [0, 300], "nice": false}, "axis": {"values": [0, 100, 200, 300], "title": null}},
            "shape": {"field": "limb", "type": "nominal", "legend": null, "scale": {"domain": ["Low flow", "Rising limb", "Falling limb"], "range": ["circle", "M-1,0L1,0M0,-1L0,1", "M-0.9,-0.9L0.9,0.9M-0.9,0.9L0.9,-0.9"]}},
            "stroke": {"field": "limb", "type": "nominal", "legend": null, "scale": {"domain": ["Low flow", "Rising limb", "Falling limb"], "range": ["#0BB4DF", "rgba(0,0,255,0.3)", "rgba(255,0,0,0.3)"]}},
            "fill": {"field": "limb", "type": "nominal", "legend": null, "scale": {"domain": ["Low flow", "Rising limb", "Falling limb"], "range": ["#0BB4DF", "transparent", "transparent"]}},
            "size": {"field": "limb", "type": "nominal", "legend": null, "scale": {"domain": ["Low flow", "Rising limb", "Falling limb"], "range": [4, 130, 130]}}
          }
        },
        {
          "data": {"values": [{"Q": 2.7, "SSC": 21}, {"Q": 14.7, "SSC": 175}]},
          "mark": {"type": "line", "color": "#0000FF", "strokeWidth": 1.2},
          "encoding": {
            "x": {"field": "Q", "type": "quantitative", "axis": {"orient": "top", "labels": false, "title": null, "values": [0, 5, 10, 15]}},
            "y": {"field": "SSC", "type": "quantitative", "axis": {"orient": "right", "labels": false, "title": null, "values": [0, 100, 200, 300]}}
          }
        },
        {
          "data": {"values": [{"Q": 4.9, "SSC": 24}, {"Q": 14.65, "SSC": 136}]},
          "mark": {"type": "line", "color": "#FF0000", "strokeWidth": 1.2},
          "encoding": {
            "x": {"field": "Q", "type": "quantitative", "axis": null},
            "y": {"field": "SSC", "type": "quantitative", "axis": null}
          }
        }
      ],
      "resolve": {"axis": {"x": "independent", "y": "independent"}}
    }
  ],
  "resolve": {"scale": {"shape": "independent", "stroke": "independent", "fill": "independent", "size": "independent"}},
  "config": {
    "font": "Liberation Sans",
    "view": {"stroke": "#707070", "strokeWidth": 1},
    "axis": {
      "grid": false,
      "domain": false,
      "tickSize": -4,
      "tickColor": "#3a3a3a",
      "tickWidth": 1,
      "labelFont": "Liberation Sans",
      "labelFontSize": 19,
      "labelColor": "#262626",
      "labelFlush": false,
      "labelOverlap": false,
      "titleFont": "Liberation Sans",
      "titleFontSize": 21,
      "titleFontWeight": "normal",
      "titleColor": "#262626"
    },
    "axisBottom": {"labelPadding": 14, "titlePadding": 14},
    "axisLeft": {"labelPadding": 13, "titlePadding": 8},
    "title": {"font": "Liberation Sans", "fontSize": 21, "fontWeight": "bold", "color": "#000000", "frame": "group", "anchor": "middle", "baseline": "alphabetic", "offset": -7},
    "legend": {
      "orient": "none",
      "legendX": 19,
      "legendY": 18,
      "strokeColor": "#262626",
      "fillColor": "#ffffff",
      "padding": 7,
      "labelFont": "Liberation Sans",
      "labelFontSize": 17,
      "labelColor": "#000000",
      "symbolStrokeWidth": 1,
      "rowPadding": 6,
      "labelOffset": 15,
      "symbolOffset": 17
    }
  }
}
